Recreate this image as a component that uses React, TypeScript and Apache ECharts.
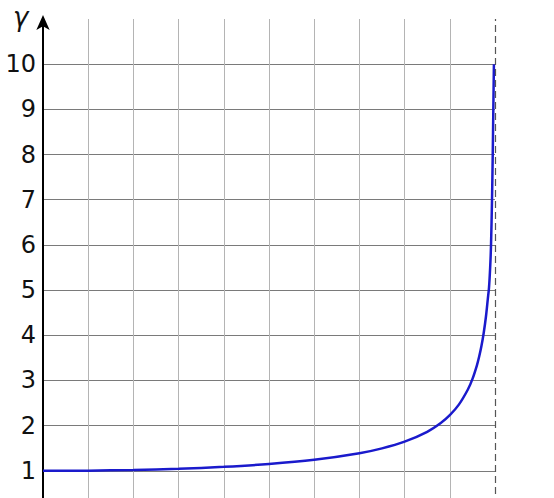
import React, { useEffect, useRef } from "react";
import * as echarts from "echarts";

// Speed ratio beta = v/c (x) and Lorentz factor gamma (y)
const betaValues = [0, 0.1, 0.2, 0.3, 0.4, 0.5, 0.6, 0.7, 0.75, 0.8, 0.85, 0.88, 0.9, 0.92, 0.94, 0.95, 0.96, 0.965, 0.97, 0.975, 0.98, 0.984, 0.9867, 0.9893, 0.9912, 0.9934, 0.995, 0.9963, 0.9976];
const gammaValues = [1, 1.004, 1.019, 1.046, 1.088, 1.15, 1.243, 1.389, 1.497, 1.645, 1.864, 2.058, 2.232, 2.465, 2.8, 3.03, 3.336, 3.529, 3.761, 4.05, 4.415, 4.795, 5.05, 5.5, 6.0, 7.0, 8.0, 9.0, 10];
const yTickLabels = ["1", "2", "3", "4", "5", "6", "7", "8", "9", "10"];
const yAxisTitle = "γ";

export default function App() {
  const ref = useRef<HTMLDivElement>(null);
  useEffect(() => {
    if (!ref.current) return;
    const chart = echarts.init(ref.current, null, { renderer: "svg" });
    const data = betaValues.map((b, i) => [b, gammaValues[i]]);
    chart.setOption({
      animation: false,
      backgroundColor: "#ffffff",
      grid: { left: 43, right: 59, top: 19, bottom: 24, containLabel: false },
      xAxis: {
        type: "value",
        min: 0,
        max: 1,
        interval: 0.1,
        axisLine: { show: false },
        axisTick: { show: false },
        axisLabel: { show: false },
        splitLine: {
          show: true,
          showMaxLine: false,
          lineStyle: { color: "#b4b4b4", width: 1 },
        },
      },
      yAxis: {
        type: "value",
        min: 0,
        max: 11,
        interval: 1,
        axisLine: {
          show: true,
          onZero: false,
          lineStyle: { color: "#000000", width: 2 },
          symbol: ["none", "arrow"],
          symbolSize: [10, 15],
          symbolOffset: [0, 4],
        },
        axisTick: { show: false },
        axisLabel: {
          margin: 7,
          fontSize: 24,
          fontFamily: "DejaVu Sans",
          color: "#111111",
          formatter: (v: number) => {
            const s = String(v);
            return yTickLabels.indexOf(s) >= 0 ? s : "";
          },
        },
        splitLine: {
          show: true,
          showMaxLine: false,
          lineStyle: { color: "#7a7a7a", width: 1 },
        },
      },
      graphic: [
        {
          type: "text",
          left: 13,
          top: 4,
          style: {
            text: yAxisTitle,
            font: "italic 26px DejaVu Sans",
            fill: "#111111",
          },
        },
      ],
      series: [
        {
          type: "line",
          data,
          showSymbol: false,
          smooth: 0.3,
          lineStyle: { color: "#1a1acc", width: 2.5 },
          markLine: {
            silent: true,
            symbol: ["none", "none"],
            label: { show: false },
            lineStyle: { color: "#555555", type: [7, 4], width: 1.2 },
            data: [{ xAxis: 1 }],
          },
          z: 3,
        },
      ],
    });
    return () => chart.dispose();
  }, []);
  return (
    <div style={{ position: "fixed", left: 0, top: 0, width: 554, height: 498, overflow: "hidden", background: "#fff" }}>
      <div ref={ref} style={{ width: 554, height: 540 }} />
    </div>
  );
}
